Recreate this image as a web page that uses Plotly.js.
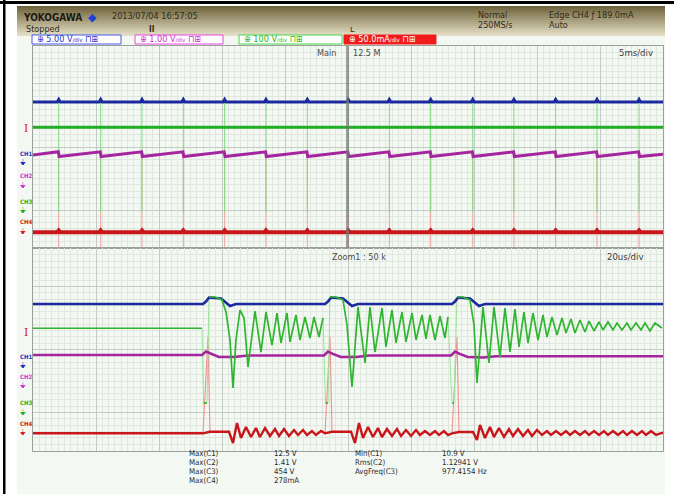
<!DOCTYPE html>
<html>
<head>
<meta charset="utf-8">
<script src="https://cdn.plot.ly/plotly-3.0.1.min.js"></script>
<style>
  html, body { margin: 0; padding: 0; background: #ffffff; }
  #scope { width: 674px; height: 494px; }
</style>
</head>
<body>
<div id="scope"></div>
<script>
// ---------- Main window: 5 ms/div, 10 div (0..50 ms), levels in divisions ----------
const mainPulseMs = [2.04, 5.37, 8.65, 11.93, 15.21, 18.49, 21.77, 25.02, 28.28, 31.56, 34.90, 38.17, 41.48, 44.76, 48.10];

const mainCh1Level = 0.714, mainCh1Bump = 0.754;
const mainCh3Level = 0.313, mainCh3SpikeHi = 0.794, mainCh3SpikeLo = -1.03;
const mainCh2Start = -0.127, mainCh2Before = -0.076, mainCh2After = -0.151, mainCh2End = -0.115;
const mainCh4Level = -1.354, mainCh4Bump = -1.325, mainCh4SpikeHi = -0.048, mainCh4SpikeLo = -1.587;
const mainCursorMs = 24.96;

// ---------- Zoom window: 20 us/div, 10 div (0..200 us) ----------
const zoomCh1T = [0, 53.97, 54.92, 55.87, 59.68, 62.54, 64.44, 92.70, 93.65, 94.60, 98.41, 101.27, 103.17, 133.02, 133.97, 134.92, 138.73, 141.59, 143.49, 200];
const zoomCh1V = [0.722, 0.722, 0.76, 0.825, 0.81, 0.69, 0.722, 0.722, 0.76, 0.825, 0.81, 0.69, 0.722, 0.722, 0.76, 0.825, 0.81, 0.69, 0.722, 0.722];

const zoomCh2T = [0, 53.65, 54.92, 56.5, 59.0, 64.0, 68.0, 92.38, 93.65, 95.2, 97.7, 102.7, 106.7, 132.7, 133.97, 135.5, 138.0, 143.0, 147.0, 200];
const zoomCh2V = [-0.087, -0.087, -0.032, -0.07, -0.119, -0.119, -0.095, -0.095, -0.032, -0.07, -0.119, -0.119, -0.095, -0.095, -0.032, -0.07, -0.119, -0.127, -0.108, -0.108];

// CH3 drops briefly to this level at each switching edge
const zoomCh3EdgeLevel = -0.849;
const zoomCh3T = [0, 53.65, 54.13, 55.24, 55.87, 57.78, 60.0, 61.27, 62.54, 63.49, 64.44, 65.71, 67.0, 68.25, 70.48, 72.38, 73.97, 75.87, 77.46, 78.73, 80.63, 81.59, 83.49, 84.76, 86.35, 87.94, 89.21, 90.79, 92.06,
  92.85, 93.65, 94.29, 96.19, 98.41, 99.68, 101.27, 103.17, 105.40, 106.98, 108.57, 110.79, 112.06, 113.97, 115.24, 117.14, 118.41, 120.32, 121.59, 123.49, 124.76, 126.03, 127.62, 129.21, 130.79, 131.75,
  133.02, 133.65, 134.60, 136.51, 138.73, 140.0, 140.95, 142.86, 144.76, 146.35, 148.25, 149.84, 151.43, 153.02, 154.29, 155.87, 157.14, 158.73, 160.32, 161.90, 163.17, 164.76, 166.35, 167.94, 169.21, 170.79,
  172.06, 173.65, 175.24, 176.51, 178.10, 179.68, 180.95, 182.54, 184.13, 185.40, 186.98, 188.57, 189.84, 191.43, 193.02, 194.29, 195.87, 197.46, 199.68];
const zoomCh3V = [0.337, 0.337, -0.849, -0.849, 0.833, 0.833, 0.786, 0.595, 0.151, -0.611, 0.151, 0.627, 0.5, -0.278, 0.611, -0.040, 0.595, 0.071, 0.579, 0.103, 0.579, 0.119, 0.548, 0.151, 0.516, 0.183, 0.516, 0.198, 0.5,
  -0.849, -0.849, 0.833, 0.833, 0.786, 0.389, -0.595, 0.675, -0.214, 0.675, -0.040, 0.659, 0.040, 0.627, 0.103, 0.595, 0.119, 0.579, 0.151, 0.548, 0.167, 0.548, 0.151, 0.532, 0.183, 0.516,
  -0.849, -0.849, 0.833, 0.833, 0.786, 0.389, -0.532, 0.675, -0.214, 0.675, -0.119, 0.659, -0.040, 0.643, 0.040, 0.595, 0.103, 0.579, 0.151, 0.548, 0.198, 0.516, 0.230, 0.5, 0.262, 0.484,
  0.262, 0.468, 0.278, 0.452, 0.294, 0.437, 0.310, 0.437, 0.310, 0.421, 0.310, 0.421, 0.310, 0.421, 0.310, 0.421, 0.294, 0.421, 0.341];

const zoomCh4T = [0, 53.97, 56.19, 62.22, 63.49, 64.76, 66.03, 67.62, 69.21, 70.79, 72.06, 73.65, 75.24, 76.83, 78.10, 79.68, 81.27, 82.86, 84.13, 85.71, 86.98, 88.57, 89.84, 91.43, 92.70,
  94.92, 100.95, 102.22, 103.49, 104.76, 106.35, 107.94, 109.52, 110.79, 112.38, 113.97, 115.56, 116.83, 118.41, 120.0, 121.59, 122.86, 124.44, 126.03, 127.62, 128.89, 130.48, 131.75, 133.02,
  135.24, 139.68, 140.95, 141.90, 143.49, 145.08, 146.35, 147.94, 149.52, 151.11, 152.38, 153.97, 155.56, 157.14, 158.41, 160.0, 161.59, 163.17, 164.44, 166.03, 167.62, 169.21, 170.48, 172.06,
  173.65, 175.24, 176.51, 178.10, 179.68, 181.27, 182.54, 184.13, 185.71, 187.30, 188.57, 190.16, 191.75, 193.33, 194.60, 196.19, 197.78, 199.68, 200];
const zoomCh4V = [-1.33, -1.33, -1.305, -1.305, -1.484, -1.167, -1.405, -1.23, -1.389, -1.246, -1.389, -1.246, -1.373, -1.262, -1.373, -1.262, -1.373, -1.278, -1.357, -1.278, -1.357, -1.294, -1.357, -1.294, -1.33,
  -1.305, -1.305, -1.484, -1.167, -1.405, -1.23, -1.389, -1.246, -1.389, -1.262, -1.373, -1.262, -1.373, -1.278, -1.373, -1.278, -1.357, -1.294, -1.357, -1.294, -1.357, -1.294, -1.357, -1.33,
  -1.31, -1.31, -1.437, -1.198, -1.405, -1.23, -1.389, -1.246, -1.389, -1.262, -1.373, -1.262, -1.373, -1.278, -1.373, -1.278, -1.357, -1.294, -1.357, -1.294, -1.357, -1.294, -1.357, -1.294,
  -1.357, -1.294, -1.357, -1.294, -1.357, -1.294, -1.357, -1.294, -1.357, -1.294, -1.357, -1.294, -1.357, -1.294, -1.357, -1.294, -1.357, -1.325, -1.325];

// CH4 current pulses at each switching event (start, peak, return) and their levels
const zoomCh4SpikeStart = [53.97, 92.70, 133.02];
const zoomCh4SpikePeakT = [55.56, 94.29, 134.60];
const zoomCh4SpikeEnd = [56.19, 94.92, 135.24];
const zoomCh4SpikeStartV = -1.33, zoomCh4SpikePeakV = 0.198, zoomCh4SpikeEndV = -1.305;

// Measurement readout
const measNames1 = ['Max(C1)', 'Max(C2)', 'Max(C3)', 'Max(C4)'];
const measValues1 = ['12.5 V', '1.41 V', '454 V', '278mA'];
const measNames2 = ['Min(C1)', 'Rms(C2)', 'AvgFreq(C3)'];
const measValues2 = ['10.9 V', '1.12941 V', '977.4154 Hz'];

// ---------- colours ----------
const C1 = '#1b2a9e', C2 = '#a5259f', C3 = '#1fae24', C4 = '#c8161a';
const C3light = '#7fdc7f', C4light = '#f2a0a0';

// ---------- build main-window traces ----------
function pulsedLine(level, bump, hw) {
  const x = [0], y = [level];
  mainPulseMs.forEach(t => { x.push(t - hw, t, t + hw); y.push(level, bump, level); });
  x.push(50); y.push(level);
  return { x, y };
}
function spikeLines(lo, hi) {
  const x = [], y = [];
  mainPulseMs.forEach(t => { x.push(t, t, null); y.push(lo, hi, null); });
  return { x, y };
}
const ch2Main = { x: [0], y: [mainCh2Start] };
mainPulseMs.forEach(t => { ch2Main.x.push(t - 0.03, t + 0.03); ch2Main.y.push(mainCh2Before, mainCh2After); });
ch2Main.x.push(50); ch2Main.y.push(mainCh2End);

const ch1Main = pulsedLine(mainCh1Level, mainCh1Bump, 0.12);
const ch4Main = pulsedLine(mainCh4Level, mainCh4Bump, 0.12);
const ch3Spk = spikeLines(mainCh3SpikeLo, mainCh3SpikeHi);
const ch4Spk = spikeLines(mainCh4SpikeLo, mainCh4SpikeHi);

// zoom CH3: fast edges into and out of the edge level are drawn faint
const ch3Solid = { x: [], y: [] }, ch3Edge = { x: [], y: [] };
for (let i = 0; i < zoomCh3T.length; i++) {
  if (i > 0) {
    const a = zoomCh3V[i - 1] === zoomCh3EdgeLevel, b = zoomCh3V[i] === zoomCh3EdgeLevel;
    if (a !== b) {
      ch3Solid.x.push(null); ch3Solid.y.push(null);
      ch3Edge.x.push(zoomCh3T[i - 1], zoomCh3T[i], null);
      ch3Edge.y.push(zoomCh3V[i - 1], zoomCh3V[i], null);
    }
  }
  ch3Solid.x.push(zoomCh3T[i]); ch3Solid.y.push(zoomCh3V[i]);
}

const ch4ZoomSpk = { x: [], y: [] };
zoomCh4SpikeStart.forEach((t, i) => {
  ch4ZoomSpk.x.push(t, zoomCh4SpikePeakT[i], zoomCh4SpikeEnd[i], null);
  ch4ZoomSpk.y.push(zoomCh4SpikeStartV, zoomCh4SpikePeakV, zoomCh4SpikeEndV, null);
});

function line(x, y, color, width, xa, ya) {
  return { type: 'scatter', mode: 'lines', x, y, xaxis: xa, yaxis: ya,
           line: { color, width, shape: 'linear' }, hoverinfo: 'skip', connectgaps: false };
}

const traces = [
  // main window
  line(ch4Spk.x, ch4Spk.y, C4light, 1, 'x', 'y'),
  line(ch3Spk.x, ch3Spk.y, C3light, 1, 'x', 'y'),
  line(ch1Main.x, ch1Main.y, C1, 3, 'x', 'y'),
  line([0, 50], [mainCh3Level, mainCh3Level], C3, 3, 'x', 'y'),
  line(ch2Main.x, ch2Main.y, C2, 3, 'x', 'y'),
  line(ch4Main.x, ch4Main.y, C4, 4, 'x', 'y'),
  // zoom window
  line(ch4ZoomSpk.x, ch4ZoomSpk.y, '#ee9090', 1.1, 'x2', 'y2'),
  line(ch3Edge.x, ch3Edge.y, '#9be39b', 1, 'x2', 'y2'),
  line(zoomCh1T, zoomCh1V, C1, 2.6, 'x2', 'y2'),
  line(zoomCh2T, zoomCh2V, C2, 2.6, 'x2', 'y2'),
  line(ch3Solid.x, ch3Solid.y, '#2fb52f', 1.7, 'x2', 'y2'),
  line(zoomCh4T, zoomCh4V, C4, 2.4, 'x2', 'y2')
];

// ---------- page geometry helpers (paper fractions from pixels) ----------
const W = 674, H = 494;
const px = v => v / W;
const py = v => 1 - v / H;

const NARROW = 'Liberation Sans Narrow, DejaVu Sans Condensed, Arial Narrow, sans-serif';
function txt(text, x, y, o = {}) {
  return { text, x: px(x), y: py(y), xref: 'paper', yref: 'paper', showarrow: false,
           xanchor: o.xa || 'left', yanchor: 'middle',
           font: { family: o.family || NARROW, size: o.size || 9, color: o.color || '#3a3a3a' } };
}

const shapes = [];
// screen background and frame
shapes.push({ type: 'rect', xref: 'paper', yref: 'paper', x0: px(17), x1: px(665), y0: py(494), y1: py(5), fillcolor: '#f4f8f3', line: { width: 0 }, layer: 'below' });
shapes.push({ type: 'rect', xref: 'paper', yref: 'paper', x0: 0, x1: 1, y0: py(4), y1: py(1), fillcolor: '#000', line: { width: 0 }, layer: 'below' });
shapes.push({ type: 'rect', xref: 'paper', yref: 'paper', x0: px(3), x1: px(5.5), y0: 0, y1: 1, fillcolor: '#000', line: { width: 0 }, layer: 'below' });
// title bar shading
const barTop = [112, 100, 60], barBot = [226, 221, 196];
for (let i = 0; i < 15; i++) {
  const f = i / 14;
  const c = barTop.map((v, k) => Math.round(v + (barBot[k] - v) * f));
  shapes.push({ type: 'rect', xref: 'paper', yref: 'paper', x0: px(17), x1: px(665),
                y0: py(6 + (i + 1) * 2), y1: py(6 + i * 2), fillcolor: `rgb(${c.join(',')})`, line: { width: 0 }, layer: 'below' });
}
// channel setting boxes
const boxes = [
  { x0: 32, x1: 121, edge: '#4656e6', fill: '#ffffff' },
  { x0: 135, x1: 223, edge: '#e24ae0', fill: '#ffffff' },
  { x0: 239, x1: 342, edge: '#48d448', fill: '#ffffff' },
  { x0: 344, x1: 436, edge: '#f01c1c', fill: '#f01c1c' }
];
boxes.forEach(b => shapes.push({ type: 'rect', xref: 'paper', yref: 'paper', x0: px(b.x0), x1: px(b.x1), y0: py(44), y1: py(35),
                                  fillcolor: b.fill, line: { color: b.edge, width: 1 }, layer: 'below' }));
// main-window zoom position cursor
shapes.push({ type: 'line', xref: 'x', yref: 'y domain', x0: mainCursorMs, x1: mainCursorMs, y0: 0, y1: 1,
              line: { color: 'rgba(120,120,120,0.7)', width: 3 }, layer: 'above' });

const annotations = [
  txt('<b>YOKOGAWA</b>', 21, 17, { size: 10, color: '#1c1a12' }),
  txt('◆', 86, 17, { size: 11, color: '#1f3fd2', family: 'DejaVu Sans' }),
  txt('2013/07/04 16:57:05', 110, 16, { size: 9, color: '#302a18' }),
  txt('Stopped', 24, 29.5, { size: 9, color: '#302a18' }),
  txt('<b>II</b>', 147, 29.5, { size: 8, color: '#302a18' }),
  txt('ʟ', 348, 29, { size: 9, color: '#302a18', family: 'DejaVu Sans' }),
  txt('Normal', 476, 15, { size: 9, color: '#302a18' }),
  txt('250MS/s', 476, 25, { size: 9, color: '#302a18' }),
  txt('Edge CH4 ƒ 189.0mA', 547, 15, { size: 9, color: '#302a18' }),
  txt('Auto', 547, 25, { size: 9, color: '#302a18' }),
  // channel boxes
  txt('⊕ 5.00 V<span style="font-size:6px">/div</span> ⊓⊞', 35, 39.5, { size: 9, color: '#2233d0' }),
  txt('⊕ 1.00 V<span style="font-size:6px">/div</span> ⊓⊞', 138, 39.5, { size: 9, color: '#d22ad2' }),
  txt('⊕ 100 V<span style="font-size:6px">/div</span> ⊓⊞', 242, 39.5, { size: 9, color: '#22b822' }),
  txt('⊕ 50.0mA<span style="font-size:6px">/div</span> ⊓⊞', 347, 39.5, { size: 9, color: '#ffffff' }),
  // window captions
  txt('Main', 338, 53, { xa: 'right', size: 9, color: '#4a4a4a' }),
  txt('12.5 M', 351, 53, { size: 9, color: '#4a4a4a' }),
  txt('5ms/div', 655, 53, { xa: 'right', size: 9.5, color: '#3a3a3a' }),
  txt('Zoom1 : 50 k', 330, 257, { size: 9, color: '#4a4a4a' }),
  txt('20us/div', 645, 256, { xa: 'right', size: 9.5, color: '#3a3a3a' })
];

// trigger level and channel ground markers at the left edge
const leftMarks = [
  { y: 128, t: 'I', c: '#d42020', s: 11, serif: true },
  { y: 154, t: '<b>CH1</b>', c: '#2030c0', s: 6 }, { y: 163, t: '⏚', c: '#2030c0', s: 8 },
  { y: 175.7, t: '<b>CH2</b>', c: '#d030d0', s: 6 }, { y: 185.7, t: '⏚', c: '#d030d0', s: 8 },
  { y: 201, t: '<b>CH3</b>', c: '#20b020', s: 6 }, { y: 210, t: '⏚', c: '#20b020', s: 8 },
  { y: 221.7, t: '<b>CH4</b>', c: '#d02020', s: 6 }, { y: 231.7, t: '⏚', c: '#d02020', s: 8 },
  { y: 332, t: 'I', c: '#d42020', s: 11, serif: true },
  { y: 356, t: '<b>CH1</b>', c: '#2030c0', s: 6 }, { y: 365, t: '⏚', c: '#2030c0', s: 8 },
  { y: 376, t: '<b>CH2</b>', c: '#d030d0', s: 6 }, { y: 385.7, t: '⏚', c: '#d030d0', s: 8 },
  { y: 402.7, t: '<b>CH3</b>', c: '#20b020', s: 6 }, { y: 412, t: '⏚', c: '#20b020', s: 8 },
  { y: 423, t: '<b>CH4</b>', c: '#d02020', s: 6 }, { y: 432, t: '⏚', c: '#d02020', s: 8 }
];
leftMarks.forEach(m => annotations.push(txt(m.t, m.serif ? 22 : 18, m.y,
  { size: m.s, color: m.c, family: m.serif ? 'DejaVu Serif' : 'DejaVu Sans Condensed, DejaVu Sans' })));

// measurement readout block
const MEASFONT = 'DejaVu Sans Condensed, Liberation Sans Narrow, sans-serif';
const measRowsY = [453.5, 462.5, 471.5, 480.5];
measNames1.forEach((n, i) => {
  annotations.push(txt(n, 187, measRowsY[i], { size: 7.8, color: '#2a2a2a', family: MEASFONT }));
  annotations.push(txt(measValues1[i], 272, measRowsY[i], { size: 7.8, color: '#2a2a2a', family: MEASFONT }));
});
measNames2.forEach((n, i) => {
  annotations.push(txt(n, 353, measRowsY[i], { size: 7.8, color: '#2a2a2a', family: MEASFONT }));
  annotations.push(txt(measValues2[i], 440, measRowsY[i], { size: 7.8, color: '#2a2a2a', family: MEASFONT }));
});

// ---------- axes ----------
const xDom = [px(33), px(663)];
function gridAxis(extra) {
  return Object.assign({
    showticklabels: false, ticks: '', zeroline: false, showgrid: true,
    gridcolor: '#c4cbc4', gridwidth: 1, showline: true, linecolor: '#9aa09a', linewidth: 1, mirror: true,
    fixedrange: true
  }, extra);
}
const layout = {
  width: W, height: H,
  margin: { l: 0, r: 0, t: 0, b: 0, pad: 0 },
  paper_bgcolor: '#ffffff', plot_bgcolor: '#f4f8f3',
  showlegend: false, hovermode: false,
  xaxis: gridAxis({ domain: xDom, range: [0, 50], dtick: 5, tick0: 0, anchor: 'y',
                    minor: { dtick: 0.5, tick0: 0, showgrid: true, gridcolor: '#e0e7df', gridwidth: 1 } }),
  yaxis: gridAxis({ domain: [py(248), py(46)], range: [-1.603, 1.603], dtick: 1, tick0: 0, anchor: 'x',
                    minor: { dtick: 0.1, tick0: 0, showgrid: true, gridcolor: '#e0e7df', gridwidth: 1 } }),
  xaxis2: gridAxis({ domain: xDom, range: [0, 200], dtick: 20, tick0: 0, anchor: 'y2',
                     minor: { dtick: 2, tick0: 0, showgrid: true, gridcolor: '#e0e7df', gridwidth: 1 } }),
  yaxis2: gridAxis({ domain: [py(451), py(248)], range: [-1.611, 1.611], dtick: 1, tick0: 0, anchor: 'x2',
                     minor: { dtick: 0.1, tick0: 0, showgrid: true, gridcolor: '#e0e7df', gridwidth: 1 } }),
  shapes, annotations
};

Plotly.newPlot('scope', traces, layout, { staticPlot: true, displayModeBar: false });
</script>
</body>
</html>
